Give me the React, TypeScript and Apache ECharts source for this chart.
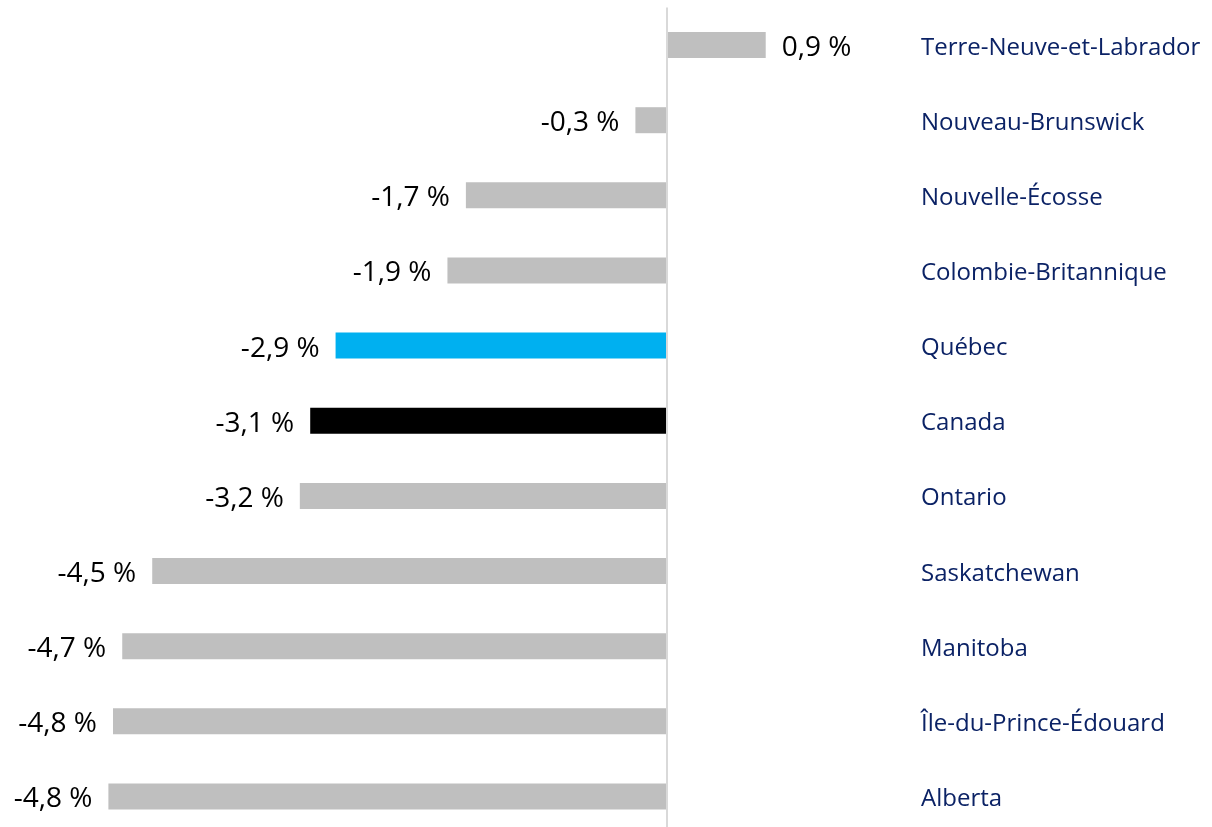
import React, { useEffect, useRef } from "react";
import * as echarts from "echarts";

const categories = [
  "Terre-Neuve-et-Labrador",
  "Nouveau-Brunswick",
  "Nouvelle-Écosse",
  "Colombie-Britannique",
  "Québec",
  "Canada",
  "Ontario",
  "Saskatchewan",
  "Manitoba",
  "Île-du-Prince-Édouard",
  "Alberta",
];

const values = [0.86, -0.27, -1.74, -1.9, -2.87, -3.09, -3.18, -4.46, -4.72, -4.8, -4.84];

const barColors = [
  "#bfbfbf",
  "#bfbfbf",
  "#bfbfbf",
  "#bfbfbf",
  "#00b0f0",
  "#000000",
  "#bfbfbf",
  "#bfbfbf",
  "#bfbfbf",
  "#bfbfbf",
  "#bfbfbf",
];

const fmt = (v: number) => v.toFixed(1).replace(".", ",") + " %";

export default function App() {
  const ref = useRef<HTMLDivElement>(null);
  useEffect(() => {
    if (!ref.current) return;
    const chart = echarts.init(ref.current, undefined, { renderer: "svg" });
    const font = "Open Sans";
    chart.setOption({
      animation: false,
      grid: { left: 0, right: 0, top: 7.5, bottom: 0, containLabel: false },
      xAxis: {
        type: "value",
        min: -5.78,
        max: 4.73,
        show: false,
      },
      yAxis: {
        type: "category",
        data: categories,
        inverse: true,
        position: "right",
        axisLine: { show: false },
        axisTick: { show: false },
        splitLine: { show: false },
        axisLabel: {
          margin: -291,
          align: "left",
          color: "#0b2265",
          fontFamily: font,
          fontSize: 24,
        },
      },
      series: [
        {
          type: "bar",
          barWidth: 26,
          data: values.map((v, i) => ({
            value: v,
            itemStyle: { color: barColors[i] },
            label: {
              show: true,
              position: v >= 0 ? "right" : "left",
              distance: 16,
              formatter: () => fmt(v),
              color: "#000000",
              fontFamily: font,
              fontSize: 28,
            },
          })),
          markLine: {
            silent: true,
            symbol: "none",
            label: { show: false },
            lineStyle: { color: "#d9d9d9", width: 2, type: "solid" },
            data: [{ xAxis: 0 }],
          },
        },
      ],
    });
    return () => chart.dispose();
  }, []);
  return (
    <div
      ref={ref}
      style={{ position: "fixed", left: 0, top: 0, width: 1212, height: 834 }}
    />
  );
}
